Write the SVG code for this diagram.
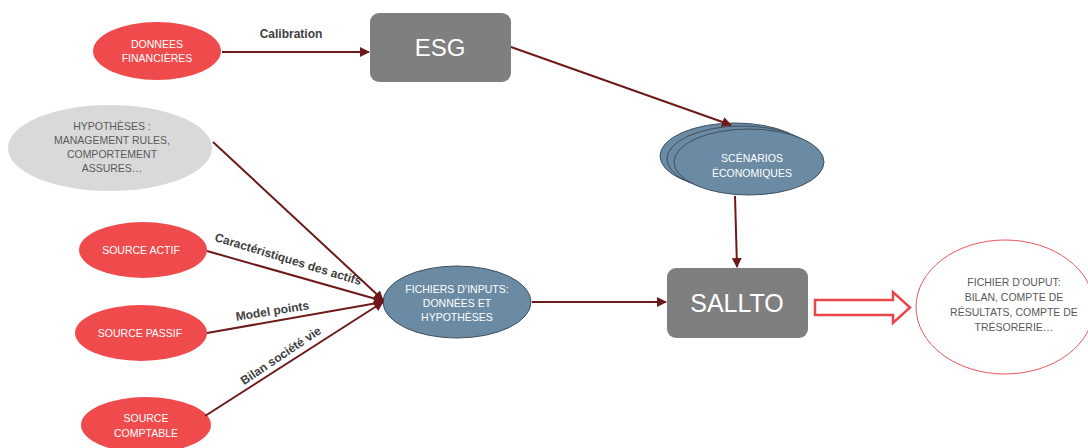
<svg xmlns="http://www.w3.org/2000/svg" width="1088" height="448" viewBox="0 0 1088 448">
<defs>
<style>
.t{font-family:"Liberation Sans",Arial,sans-serif;text-anchor:middle}
.w{fill:#ffffff}
.g{fill:#595959}
.red{fill:#ef4a4c}
.blue{fill:#6b8aa3;stroke:#3f4f5e;stroke-width:1}
.box{fill:#7f7f7f}
.c{stroke:#6e1a1a;stroke-width:2;fill:none;marker-end:url(#ah)}
.lbl{font-family:"Liberation Sans",Arial,sans-serif;font-weight:bold;font-size:12px;fill:#404040;text-anchor:middle}
</style>
<marker id="ah" viewBox="0 0 10 10" refX="9" refY="5" markerWidth="5" markerHeight="5" orient="auto" markerUnits="strokeWidth">
<path d="M0,0 L10,5 L0,10 z" fill="#6e1a1a"/>
</marker>
</defs>
<rect width="1088" height="448" fill="#ffffff"/>

<g id="donnees">
<ellipse class="red" cx="157" cy="51" rx="64" ry="29"/>
<text class="t w" font-size="10.5" x="157" y="48">DONNEES</text>
<text class="t w" font-size="10.5" x="157" y="62">FINANCIÈRES</text>
</g>

<g id="esg">
<rect class="box" x="370" y="13" width="141" height="69" rx="9"/>
<text class="t w" font-size="24" x="440" y="56">ESG</text>
</g>

<g id="hypotheses">
<ellipse cx="110" cy="148" rx="102" ry="43" fill="#d9d9d9"/>
<text class="t g" font-size="10.5" x="112" y="130">HYPOTHÈSES :</text>
<text class="t g" font-size="10.5" x="112" y="144">MANAGEMENT RULES,</text>
<text class="t g" font-size="10.5" x="112" y="158">COMPORTEMENT</text>
<text class="t g" font-size="10.5" x="112" y="172">ASSURES…</text>
</g>

<g id="source-actif">
<ellipse class="red" cx="143" cy="250" rx="64" ry="28"/>
<text class="t w" font-size="10.5" x="141" y="254">SOURCE ACTIF</text>
</g>

<g id="source-passif">
<ellipse class="red" cx="141" cy="333" rx="66" ry="28"/>
<text class="t w" font-size="10.5" x="140" y="337">SOURCE PASSIF</text>
</g>

<g id="source-comptable">
<ellipse class="red" cx="146" cy="425" rx="65" ry="28"/>
<text class="t w" font-size="10.5" x="146" y="422">SOURCE</text>
<text class="t w" font-size="10.5" x="146" y="437">COMPTABLE</text>
</g>

<g id="fichiers-inputs">
<ellipse class="blue" cx="457" cy="302" rx="74" ry="36" stroke="none"/>
<text class="t w" font-size="10.5" x="457" y="293">FICHIERS D’INPUTS:</text>
<text class="t w" font-size="10.5" x="457" y="307">DONNÉES ET</text>
<text class="t w" font-size="10.5" x="457" y="321">HYPOTHÈSES</text>
</g>

<g id="scenarios">
<ellipse class="blue" cx="735" cy="156" rx="75" ry="33"/>
<ellipse class="blue" cx="742" cy="159" rx="75" ry="33"/>
<ellipse class="blue" cx="749" cy="162" rx="75" ry="33"/>
<text class="t w" font-size="10.5" x="752" y="162">SCÉNARIOS</text>
<text class="t w" font-size="10.5" x="752" y="177">ÉCONOMIQUES</text>
</g>

<g id="sallto">
<rect class="box" x="667" y="268" width="141" height="70" rx="9"/>
<text class="t w" font-size="25" x="737" y="312">SALLTO</text>
</g>

<g id="fichier-output">
<ellipse cx="1005" cy="307" rx="89" ry="67" fill="#ffffff" stroke="#e8575a" stroke-width="1"/>
<text class="t g" font-size="10.5" x="1014" y="286">FICHIER D’OUPUT:</text>
<text class="t g" font-size="10.5" x="1014" y="301">BILAN, COMPTE DE</text>
<text class="t g" font-size="10.5" x="1014" y="316">RÉSULTATS, COMPTE DE</text>
<text class="t g" font-size="10.5" x="1014" y="331">TRÉSORERIE…</text>
</g>

<g id="connectors">
<line class="c" x1="222" y1="52" x2="369" y2="52"/>
<text class="lbl" font-size="13" x="291" y="38">Calibration</text>
<line class="c" x1="511" y1="47" x2="731" y2="125"/>
<line class="c" x1="213" y1="142" x2="383" y2="300"/>
<line class="c" x1="207" y1="251" x2="383" y2="301"/>
<line class="c" x1="207" y1="333" x2="383" y2="302"/>
<line class="c" x1="205" y1="416" x2="383" y2="302"/>
<text class="lbl" transform="translate(287,263) rotate(17)">Caractéristiques des actifs</text>
<text class="lbl" transform="translate(273,315) rotate(-9)">Model points</text>
<text class="lbl" transform="translate(283,359) rotate(-34)">Bilan société vie</text>
<line class="c" x1="532" y1="302" x2="666" y2="302"/>
<line class="c" x1="735" y1="196" x2="737" y2="267"/>
<path d="M815,300 L893,300 L893,292 L910,307.5 L893,323 L893,315 L815,315 Z" fill="#ffffff" stroke="#e8474a" stroke-width="2.5" stroke-linejoin="miter"/>
</g>
</svg>
